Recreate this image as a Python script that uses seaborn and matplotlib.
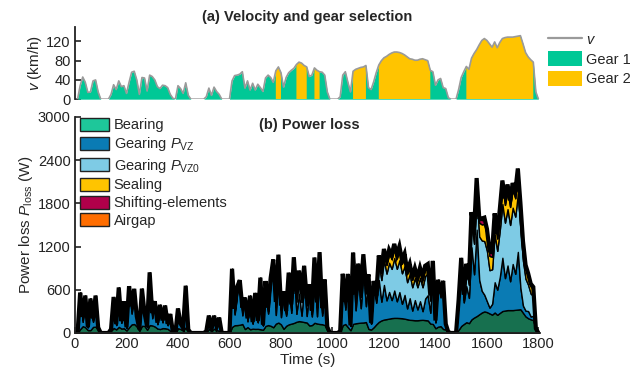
import numpy as np
import matplotlib
matplotlib.use("Agg")
import matplotlib.pyplot as plt
import seaborn as sns
from matplotlib.patches import Patch
from matplotlib.lines import Line2D

# ---------------- data ----------------
time_s = list(range(0, 1801, 10))

velocity = [
    0, 0, 28, 46, 35, 14, 15, 38, 40, 15,
    0, 0, 0, 0, 10, 30, 20, 38, 26, 28,
    12, 35, 56, 58, 40, 10, 45, 44, 17, 50,
    47, 40, 26, 22, 29, 28, 24, 10, 2, 0,
    28, 22, 12, 34, 8, 0, 0, 0, 0, 0,
    0, 5, 23, 8, 25, 16, 10, 0, 0, 0,
    0, 38, 49, 50, 52, 57, 23, 38, 19, 33,
    19, 31, 24, 16, 44, 50, 45, 35, 59, 67,
    55, 25, 45, 55, 60, 64, 72, 77, 75, 70,
    67, 47, 50, 65, 60, 57, 56, 50, 15, 0,
    0, 0, 0, 5, 50, 57, 35, 15, 58, 62,
    64, 66, 67, 70, 24, 20, 36, 55, 71, 80,
    86, 89, 93, 96, 98, 98, 97, 95, 92, 88,
    84, 83, 81, 81, 83, 84, 82, 80, 60, 57,
    29, 40, 43, 24, 22, 3, 0, 0, 0, 20,
    45, 57, 68, 62, 85, 95, 103, 113, 122, 126,
    122, 115, 108, 119, 107, 118, 126, 128, 129, 129,
    129, 130, 131, 132, 115, 97, 88, 82, 77, 15,
    0]

gear2_intervals = [(780, 800), (860, 900), (930, 950), (1080, 1130), (1180, 1380), (1520, 1780)]

bearing = [
    0, 0, 55, 95, 80, 40, 40, 85, 88, 40,
    0, 0, 0, 0, 30, 70, 50, 85, 62, 66,
    35, 80, 120, 125, 90, 30, 100, 98, 45, 110,
    105, 90, 62, 55, 68, 66, 58, 30, 8, 0,
    66, 55, 35, 78, 25, 0, 0, 0, 0, 0,
    0, 15, 55, 25, 60, 42, 30, 0, 0, 0,
    0, 85, 108, 110, 115, 125, 55, 82, 52, 60,
    57, 58, 52, 45, 98, 110, 100, 80, 130, 145,
    120, 58, 100, 120, 130, 140, 156, 165, 160, 152,
    146, 105, 110, 142, 132, 125, 122, 110, 38, 0,
    0, 0, 0, 15, 110, 125, 80, 38, 127, 135,
    140, 144, 146, 152, 56, 48, 80, 120, 155, 175,
    187, 193, 200, 207, 210, 210, 208, 205, 199, 191,
    183, 181, 177, 177, 181, 183, 179, 175, 131, 125,
    66, 88, 95, 55, 50, 8, 0, 0, 0, 45,
    98, 125, 150, 137, 190, 215, 235, 260, 285, 300,
    290, 272, 255, 285, 252, 280, 305, 312, 318, 318,
    318, 322, 326, 330, 280, 230, 205, 190, 178, 35,
    0]

gearing_vz = [
    0, 0, 480, 60, 400, 40, 430, 70, 380, 30,
    0, 0, 0, 0, 20, 400, 60, 500, 80, 350,
    40, 530, 150, 380, 90, 20, 450, 120, 40, 650,
    100, 300, 60, 320, 80, 290, 50, 230, 10, 0,
    250, 60, 30, 540, 20, 0, 0, 0, 0, 0,
    0, 10, 170, 20, 160, 40, 180, 0, 0, 0,
    0, 760, 150, 450, 530, 120, 420, 80, 450, 70,
    480, 90, 700, 60, 560, 160, 600, 900, 120, 700,
    100, 500, 140, 620, 150, 780, 110, 380, 80, 520,
    90, 500, 120, 680, 100, 820, 120, 550, 40, 0,
    0, 0, 0, 10, 630, 200, 700, 60, 800, 180,
    590, 200, 690, 220, 740, 80, 600, 300, 580, 260,
    480, 260, 370, 250, 380, 230, 360, 200, 330, 150,
    300, 130, 280, 150, 260, 120, 300, 350, 150, 770,
    80, 600, 400, 650, 60, 5, 0, 0, 0, 400,
    880, 300, 500, 350, 1000, 600, 1200, 480, 300, 230,
    150, 80, 150, 420, 350, 500, 740, 450, 620, 400,
    640, 500, 800, 300, 100, 80, 100, 40, 60, 20,
    0]

gearing_vz0 = [
    0, 0, 9, 25, 15, 2, 3, 17, 19, 3,
    0, 0, 0, 0, 1, 11, 5, 17, 8, 9,
    2, 15, 38, 40, 19, 1, 24, 23, 3, 30,
    26, 19, 8, 6, 10, 9, 7, 1, 0, 0,
    9, 6, 2, 14, 1, 0, 0, 0, 0, 0,
    0, 0, 6, 1, 7, 3, 1, 0, 0, 0,
    0, 17, 29, 30, 32, 39, 6, 16, 6, 8,
    7, 7, 6, 4, 23, 30, 24, 15, 110, 150,
    100, 7, 24, 36, 43, 49, 170, 200, 190, 160,
    150, 26, 30, 140, 120, 110, 38, 30, 3, 0,
    0, 0, 0, 0, 30, 39, 15, 3, 120, 140,
    150, 160, 165, 180, 7, 5, 16, 36, 237, 300,
    348, 372, 406, 433, 451, 451, 442, 424, 398, 364,
    332, 324, 308, 308, 324, 332, 316, 300, 170, 39,
    10, 19, 22, 7, 6, 0, 0, 0, 0, 5,
    24, 39, 217, 181, 340, 424, 499, 600, 700, 746,
    700, 520, 480, 666, 538, 654, 746, 770, 782, 782,
    782, 794, 806, 819, 622, 442, 364, 316, 279, 3,
    0]

sealing = [
    0, 0, 12, 32, 18, 3, 3, 22, 24, 3,
    0, 0, 0, 0, 2, 14, 6, 22, 10, 12,
    2, 18, 47, 50, 24, 2, 30, 29, 4, 38,
    33, 24, 10, 7, 13, 12, 9, 2, 0, 0,
    12, 7, 2, 17, 1, 0, 0, 0, 0, 0,
    0, 0, 8, 1, 9, 4, 2, 0, 0, 0,
    0, 22, 36, 38, 41, 49, 8, 19, 7, 10,
    9, 9, 7, 5, 29, 38, 30, 18, 52, 67,
    45, 9, 30, 45, 54, 61, 78, 89, 84, 74,
    67, 33, 38, 63, 54, 49, 47, 38, 3, 0,
    0, 0, 0, 0, 38, 49, 18, 3, 50, 58,
    61, 65, 67, 74, 9, 6, 19, 45, 76, 96,
    111, 119, 130, 138, 144, 144, 141, 135, 127, 116,
    106, 103, 98, 98, 103, 106, 101, 96, 54, 49,
    13, 24, 28, 9, 7, 0, 0, 0, 0, 6,
    30, 49, 69, 58, 108, 135, 159, 192, 223, 238,
    223, 198, 175, 212, 172, 209, 238, 246, 250, 250,
    250, 254, 257, 261, 198, 141, 116, 101, 89, 3,
    0]

shifting_elements = [
    0, 0, 3, 8, 5, 1, 1, 6, 6, 1,
    0, 0, 0, 0, 0, 4, 2, 6, 3, 3,
    1, 5, 13, 13, 6, 0, 8, 8, 1, 10,
    9, 6, 3, 2, 3, 3, 2, 0, 0, 0,
    3, 2, 1, 5, 0, 0, 0, 0, 0, 0,
    0, 0, 2, 0, 3, 1, 0, 0, 0, 0,
    0, 6, 10, 10, 11, 13, 2, 5, 2, 3,
    2, 3, 2, 1, 8, 10, 8, 5, 14, 18,
    12, 3, 8, 12, 14, 16, 21, 24, 23, 20,
    18, 9, 10, 17, 14, 13, 13, 10, 1, 0,
    0, 0, 0, 0, 10, 13, 5, 1, 13, 15,
    16, 17, 18, 20, 2, 2, 5, 12, 20, 26,
    30, 32, 35, 37, 38, 38, 38, 36, 34, 31,
    28, 28, 26, 26, 28, 28, 27, 26, 14, 13,
    3, 6, 7, 2, 2, 0, 0, 0, 0, 2,
    8, 13, 18, 15, 29, 36, 42, 51, 60, 64,
    60, 53, 47, 57, 46, 56, 64, 66, 67, 67,
    67, 68, 69, 70, 53, 38, 31, 27, 24, 1,
    0]

airgap = [
    0, 0, 1, 3, 2, 0, 0, 2, 2, 0,
    0, 0, 0, 0, 0, 1, 1, 2, 1, 1,
    0, 2, 5, 5, 2, 0, 3, 3, 0, 4,
    3, 2, 1, 1, 1, 1, 1, 0, 0, 0,
    1, 1, 0, 2, 0, 0, 0, 0, 0, 0,
    0, 0, 1, 0, 1, 0, 0, 0, 0, 0,
    0, 2, 4, 4, 4, 5, 1, 2, 1, 1,
    1, 1, 1, 0, 3, 4, 3, 2, 5, 7,
    5, 1, 3, 5, 5, 6, 8, 9, 8, 7,
    7, 3, 4, 6, 5, 5, 5, 4, 0, 0,
    0, 0, 0, 0, 4, 5, 2, 0, 5, 6,
    6, 7, 7, 7, 1, 1, 2, 5, 8, 10,
    11, 12, 13, 14, 14, 14, 14, 14, 13, 12,
    11, 10, 10, 10, 10, 11, 10, 10, 5, 5,
    1, 2, 3, 1, 1, 0, 0, 0, 0, 1,
    3, 5, 7, 6, 11, 14, 16, 19, 22, 24,
    22, 20, 17, 21, 17, 21, 24, 25, 25, 25,
    25, 25, 26, 26, 20, 14, 12, 10, 9, 0,
    0]

loss_labels = ["Bearing", r"Gearing $P_{\mathrm{VZ}}$", r"Gearing $P_{\mathrm{VZ0}}$",
               "Sealing", "Shifting-elements", "Airgap"]
xticks_b = list(range(0, 1801, 200))
yticks_b = list(range(0, 3001, 600))
yticks_a = [0, 40, 80, 120]

# ---------------- style ----------------
sns.set_theme(style="ticks")
plt.rcParams['font.family'] = ['Liberation Sans', 'DejaVu Sans']
plt.rcParams['mathtext.fontset'] = 'custom'
plt.rcParams['mathtext.rm'] = 'Liberation Sans'
plt.rcParams['mathtext.it'] = 'Liberation Sans:italic'
plt.rcParams['mathtext.bf'] = 'Liberation Sans:bold'

c_gear1 = '#00c896'
c_gear2 = '#ffc400'
c_v = '#9a9a9a'
layer_colors = ['#17704f', '#0a7bb4', '#7ecbe5', '#ffc400', '#b0004a', '#ff6d00']
legend_colors = ['#1ec79a', '#0a7bb4', '#7ecbe5', '#ffc400', '#b0004a', '#ff6d00']
spine_c = '#222222'

fig = plt.figure(figsize=(6.41, 3.70), dpi=100)
ax1 = fig.add_axes([0.117, 0.732, 0.725, 0.195])
ax2 = fig.add_axes([0.117, 0.100, 0.725, 0.584])

t = np.array(time_s)
v = np.array(velocity)
g2 = np.zeros(len(t), dtype=bool)
for a, b in gear2_intervals:
    g2 |= (t >= a) & (t <= b)

# ---- (a) velocity + gear ----
ax1.fill_between(t, 0, v, color=c_gear1, linewidth=0)
ax1.fill_between(t, 0, v, where=g2, color=c_gear2, linewidth=0)
sns.lineplot(x=t, y=v, ax=ax1, color=c_v, linewidth=1.2)
ax1.set_xlim(0, 1805)
ax1.set_ylim(0, 150)
ax1.set_yticks(yticks_a)
ax1.set_xticks([])
for s in ['top', 'right', 'bottom']:
    ax1.spines[s].set_visible(False)
ax1.spines['left'].set_color(spine_c)
ax1.spines['left'].set_linewidth(1.3)
ax1.tick_params(axis='y', direction='in', length=4, width=1.2, labelsize=10.5, colors=spine_c, pad=3)
ax1.set_ylabel(r'$v$ (km/h)', fontsize=11, labelpad=2)
ax1.set_title('(a) Velocity and gear selection', fontsize=10.5, fontweight='bold', pad=4)
h1 = [Line2D([], [], color=c_v, lw=1.6), Patch(facecolor=c_gear1, edgecolor='none'),
      Patch(facecolor=c_gear2, edgecolor='none')]
ax1.legend(h1, [r'$v$', 'Gear 1', 'Gear 2'], loc='upper left', bbox_to_anchor=(1.0, 1.06),
           frameon=False, fontsize=10.5, handlelength=2.3, handleheight=1.2,
           labelspacing=0.3, handletextpad=0.3, borderaxespad=0.2)

# ---- (b) power loss ----
layers = [np.array(l) for l in [bearing, gearing_vz, gearing_vz0, sealing, shifting_elements, airgap]]
ax2.stackplot(t, *layers, colors=layer_colors, edgecolor='black', linewidth=1.0)
total = np.sum(layers, axis=0)
ax2.plot(t, total, color='black', linewidth=3.0, solid_joinstyle='miter')
ax2.set_xlim(0, 1805)
ax2.set_ylim(0, 3000)
ax2.set_xticks(xticks_b)
ax2.set_yticks(yticks_b)
for s in ['top', 'right']:
    ax2.spines[s].set_visible(False)
for s in ['left', 'bottom']:
    ax2.spines[s].set_color(spine_c)
    ax2.spines[s].set_linewidth(1.3)
ax2.tick_params(direction='in', length=4, width=1.2, labelsize=10.5, colors=spine_c, pad=3)
ax2.set_xlabel('Time (s)', fontsize=11, labelpad=1)
ax2.set_ylabel(r'Power loss $P_{\mathrm{loss}}$ (W)', fontsize=11, labelpad=2)
ax2.text(0.505, 0.995, '(b) Power loss', transform=ax2.transAxes, ha='center', va='top',
         fontsize=10.5, fontweight='bold')
h2 = [Patch(facecolor=c, edgecolor='#222222', linewidth=1.0) for c in legend_colors]
ax2.legend(h2, loss_labels, loc='upper left', bbox_to_anchor=(-0.005, 1.03), frameon=False,
           fontsize=10.5, handlelength=2.0, handleheight=1.0, labelspacing=0.22,
           handletextpad=0.3, borderaxespad=0.1)

fig.savefig('out.png', dpi=100)
